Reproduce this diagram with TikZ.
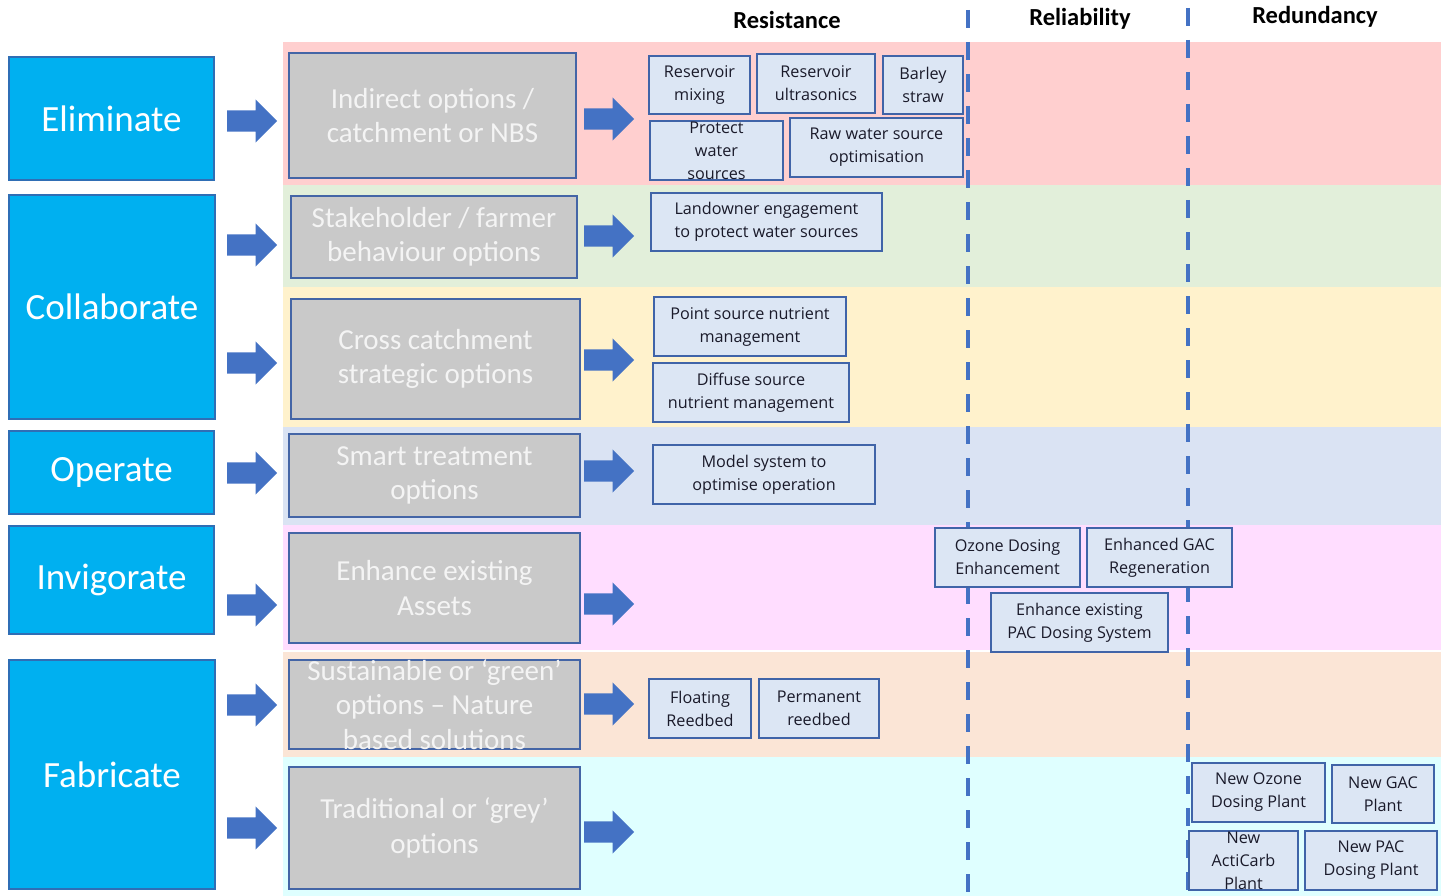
\documentclass[tikz,border=0pt]{standalone}
\usepackage{fontspec}
\setmainfont{Carlito}
\newfontfamily\boxfont{Open Sans}
\usetikzlibrary{shapes.arrows,fit}
\definecolor{catblue}{HTML}{00B0F0}
\definecolor{catborder}{HTML}{2F6EB5}
\definecolor{optgrey}{HTML}{C9C9C9}
\definecolor{optborder}{HTML}{4465A6}
\definecolor{opttxt}{HTML}{F4F4F4}
\definecolor{smfill}{HTML}{DCE6F4}
\definecolor{smborder}{HTML}{4064A8}
\definecolor{smtxt}{HTML}{1A1A2A}
\definecolor{arrowblue}{HTML}{4472C4}
\definecolor{bandred}{HTML}{FFCFCF}
\definecolor{bandgreen}{HTML}{E2EFDA}
\definecolor{bandyellow}{HTML}{FFF2CC}
\definecolor{bandblue}{HTML}{DAE3F3}
\definecolor{bandpink}{HTML}{FFDDFF}
\definecolor{bandpeach}{HTML}{FBE5D6}
\definecolor{bandcyan}{HTML}{DFFFFF}
\newcommand\placebox[8]{\node[#1, fit={(#4,#5) (#6,#7)}] (#3) {};\node[#2] (#3-t) at (#3.center) {#8};}
\begin{document}
\begin{tikzpicture}[x=1pt,y=-1pt,
  catbox/.style={draw=catborder, line width=1.2pt, fill=catblue, inner sep=0pt},
  cattext/.style={text=white, font=\fontsize{37}{44}\selectfont, inner sep=0pt},
  optbox/.style={draw=optborder, line width=1.5pt, fill=optgrey, inner sep=0pt},
  opttext/.style={text=opttxt, font=\fontsize{29}{34.5}\selectfont, align=center, inner sep=0pt},
  smallbox/.style={draw=smborder, line width=1.3pt, fill=smfill, inner sep=0pt},
  smalltext/.style={text=smtxt, font=\boxfont\fontsize{16.2}{23}\selectfont, align=center, inner sep=0pt},
  blockarrow/.style={single arrow, fill=arrowblue, draw=none, minimum height=50pt, inner xsep=0pt, inner ysep=10.5pt, single arrow head extend=11pt, anchor=west},
  header/.style={font=\bfseries\fontsize{24.5}{28}\selectfont, text=black},
  dashline/.style={draw=arrowblue, line width=3.5pt, dash pattern=on 18pt off 14pt}]
\useasboundingbox (0,0) rectangle (1445,896);
% bands
\fill[bandred] (283,42) rectangle (1441,185);
\fill[bandgreen] (283,185) rectangle (1441,287);
\fill[bandyellow] (283,287) rectangle (1441,427);
\fill[bandblue] (283,427) rectangle (1441,525);
\fill[bandpink] (283,525) rectangle (1441,650);
\fill[bandpeach] (283,652) rectangle (1441,757);
\fill[bandcyan] (283,757) rectangle (1441,896);
% headers
\node[header] (hres) at (787,20) {Resistance};
\node[header] (hrel) at (1080,19) {Reliability};
\node[header] (hred) at (1315,17) {Redundancy};
% dashed dividers
\coordinate (d1t) at (968,10); \coordinate (d1b) at (968,893);
\coordinate (d2t) at (1188,8); \coordinate (d2b) at (1188,893);
\draw[dashline] (d1t) -- (d1b);
\draw[dashline] (d2t) -- (d2b);
% category boxes
\placebox{catbox}{cattext}{elim}{9}{57}{214}{180}{Eliminate}
\placebox{catbox}{cattext}{coll}{9}{195}{215}{419}{Collaborate}
\placebox{catbox}{cattext}{oper}{9}{431}{214}{514}{Operate}
\placebox{catbox}{cattext}{invi}{9}{526}{214}{634}{Invigorate}
\placebox{catbox}{cattext}{fabr}{9}{660}{215}{889}{Fabricate}
% arrows column 1
\node[blockarrow] (a1) at (227,121) {};
\node[blockarrow] (a2) at (227,245) {};
\node[blockarrow] (a3) at (227,363) {};
\node[blockarrow] (a4) at (227,473) {};
\node[blockarrow] (a5) at (227,605) {};
\node[blockarrow] (a6) at (227,705) {};
\node[blockarrow] (a7) at (227,828) {};
% option boxes
\placebox{optbox}{opttext}{o1}{289}{53}{576}{178}{Indirect options /\\catchment or NBS}
\placebox{optbox}{opttext}{o2}{291}{196}{577}{278}{Stakeholder / farmer\\behaviour options}
\placebox{optbox}{opttext}{o3}{291}{299}{580}{419}{Cross catchment\\strategic options}
\placebox{optbox}{opttext}{o4}{289}{434}{580}{517}{Smart treatment\\options}
\placebox{optbox}{opttext}{o5}{289}{533}{580}{643}{Enhance existing\\Assets}
\placebox{optbox}{opttext}{o6}{289}{660}{580}{749}{Sustainable or ‘green’\\options – Nature\\based solutions}
\placebox{optbox}{opttext}{o7}{289}{767}{580}{889}{Traditional or ‘grey’\\options}
% arrows column 2
\node[blockarrow] (b1) at (584,119) {};
\node[blockarrow] (b2) at (584,236) {};
\node[blockarrow] (b3) at (584,360) {};
\node[blockarrow] (b4) at (584,471) {};
\node[blockarrow] (b5) at (584,604) {};
\node[blockarrow] (b6) at (584,704) {};
\node[blockarrow] (b7) at (584,832) {};
% small boxes
\placebox{smallbox}{smalltext}{s1}{649}{56}{750}{114}{Reservoir\\mixing}
\placebox{smallbox}{smalltext}{s2}{757}{54}{875}{113}{Reservoir\\ultrasonics}
\placebox{smallbox}{smalltext}{s3}{883}{56}{963}{114}{Barley\\straw}
\placebox{smallbox}{smalltext}{s4}{650}{121}{783}{180}{Protect\\water\\sources}
\placebox{smallbox}{smalltext}{s5}{790}{118}{963}{177}{Raw water source\\optimisation}
\placebox{smallbox}{smalltext}{s6}{651}{193}{882}{251}{Landowner engagement\\to protect water sources}
\placebox{smallbox}{smalltext}{s7}{654}{297}{846}{356}{Point source nutrient\\management}
\placebox{smallbox}{smalltext}{s8}{653}{363}{849}{422}{Diffuse source\\nutrient management}
\placebox{smallbox}{smalltext}{s9}{653}{445}{875}{504}{Model system to\\optimise operation}
\placebox{smallbox}{smalltext}{s10}{935}{528}{1080}{587}{Ozone Dosing\\Enhancement}
\placebox{smallbox}{smalltext}{s11}{1087}{528}{1232}{587}{Enhanced GAC\\Regeneration}
\placebox{smallbox}{smalltext}{s12}{991}{593}{1168}{652}{Enhance existing\\PAC Dosing System}
\placebox{smallbox}{smalltext}{s13}{649}{679}{751}{738}{Floating\\Reedbed}
\placebox{smallbox}{smalltext}{s14}{759}{679}{879}{738}{Permanent\\reedbed}
\placebox{smallbox}{smalltext}{s15}{1192}{763}{1325}{822}{New Ozone\\Dosing Plant}
\placebox{smallbox}{smalltext}{s16}{1332}{765}{1434}{823}{New GAC\\Plant}
\placebox{smallbox}{smalltext}{s17}{1189}{831}{1298}{890}{New\\ActiCarb\\Plant}
\placebox{smallbox}{smalltext}{s18}{1305}{831}{1437}{890}{New PAC\\Dosing Plant}
\end{tikzpicture}
\end{document}
